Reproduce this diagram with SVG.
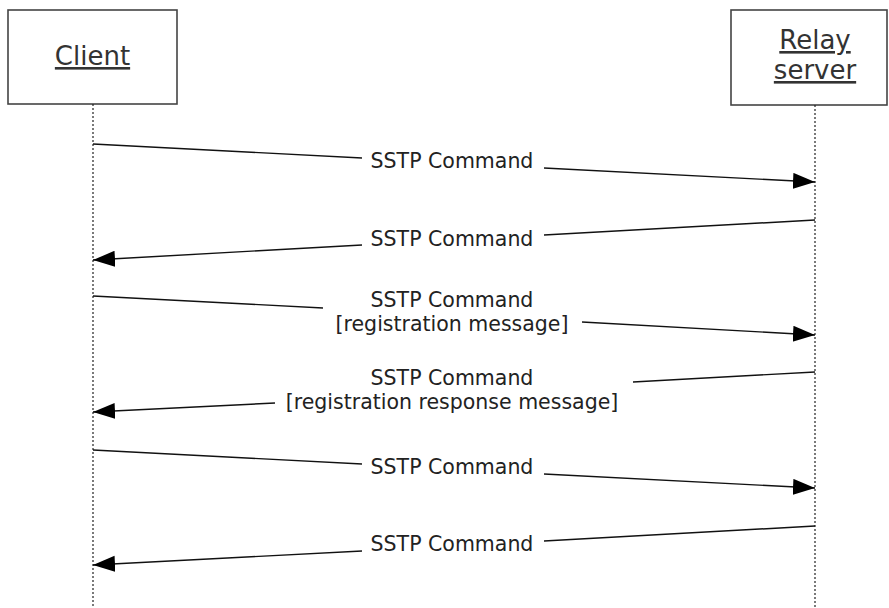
<svg xmlns="http://www.w3.org/2000/svg" width="889" height="608" viewBox="0 0 889 608">
<style>
.box{fill:#fff;stroke:#444;stroke-width:1.6}
.life{stroke:#222;stroke-width:1.2;stroke-dasharray:2,2;fill:none}
.msg{stroke:#111;stroke-width:1.4;fill:none}
.hd{font-family:"DejaVu Sans",Verdana,sans-serif;font-size:26px;fill:#333;text-anchor:middle;text-decoration:underline}
.lb{font-family:"DejaVu Sans",Verdana,sans-serif;font-size:20.5px;fill:#222;text-anchor:middle}
</style>
<defs>
<marker id="ah" markerUnits="userSpaceOnUse" markerWidth="24" markerHeight="18" refX="22" refY="8" orient="auto">
<path d="M0,0 L22,8 L0,16 Z" fill="#000"/>
</marker>
</defs>
<g id="client">
<rect class="box" x="8" y="10" width="169" height="94"/>
<text class="hd" x="92.5" y="65">Client</text>
<line class="life" x1="93" y1="104" x2="93" y2="608"/>
</g>
<g id="relay">
<rect class="box" x="731" y="10" width="156" height="95"/>
<text class="hd" x="815" y="49">Relay</text>
<text class="hd" x="815" y="79">server</text>
<line class="life" x1="815" y1="105" x2="815" y2="608"/>
</g>
<g id="connectors">
<g id="m1">
<path class="msg" d="M93,144 L362,158"/>
<path class="msg" d="M544,168 L815,182" marker-end="url(#ah)"/>
<text class="lb" x="452" y="168">SSTP Command</text>
</g>
<g id="m2">
<path class="msg" d="M815,220 L544,235"/>
<path class="msg" d="M362,245 L93,260" marker-end="url(#ah)"/>
<text class="lb" x="452" y="246">SSTP Command</text>
</g>
<g id="m3">
<path class="msg" d="M93,296 L323,308"/>
<path class="msg" d="M582,322 L815,335" marker-end="url(#ah)"/>
<text class="lb" x="452" y="307">SSTP Command</text>
<text class="lb" x="452" y="331">[registration message]</text>
</g>
<g id="m4">
<path class="msg" d="M815,372 L633,382"/>
<path class="msg" d="M275,403 L93,412" marker-end="url(#ah)"/>
<text class="lb" x="452" y="385">SSTP Command</text>
<text class="lb" x="452" y="409">[registration response message]</text>
</g>
<g id="m5">
<path class="msg" d="M93,450 L362,464"/>
<path class="msg" d="M544,474 L815,488" marker-end="url(#ah)"/>
<text class="lb" x="452" y="474">SSTP Command</text>
</g>
<g id="m6">
<path class="msg" d="M815,526 L544,541"/>
<path class="msg" d="M362,551 L93,565" marker-end="url(#ah)"/>
<text class="lb" x="452" y="551">SSTP Command</text>
</g>
</g>
</svg>
